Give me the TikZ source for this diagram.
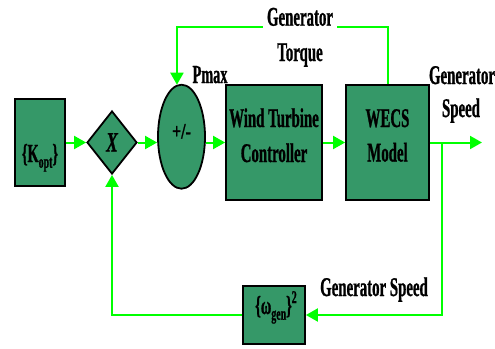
\documentclass[tikz,border=0pt]{standalone}
\usepackage{fontspec}
\newfontfamily\cf{Liberation Serif}[FakeStretch=0.55,FakeBold=0.8]
\newfontfamily\cfx{Liberation Serif}[FakeStretch=0.62,FakeBold=0.8]
\newfontfamily\cfy{Liberation Serif}[FakeStretch=0.72,FakeBold=0.8]
\usetikzlibrary{arrows.meta,shapes.geometric}
\definecolor{boxg}{RGB}{53,152,104}
\definecolor{lineg}{RGB}{0,255,0}
\newcommand\lowsub[1]{\raisebox{-0.22em}{\fontsize{18}{18}\selectfont #1}}
\newcommand\highsup[1]{\raisebox{0.42em}{\fontsize{18}{18}\selectfont #1}}
\begin{document}
\begin{tikzpicture}[x=1pt,y=-1pt,
  blk/.style={draw=black, line width=1.8pt, fill=boxg, inner sep=0pt},
  sig/.style={draw=lineg, line width=2pt, -{Triangle[length=12pt,width=13pt]}},
  txt/.style={font=\cf\bfseries\fontsize{27}{35}\selectfont, inner sep=0pt, anchor=base},
  stxt/.style={font=\cf\bfseries\fontsize{26}{30}\selectfont, inner sep=0pt, anchor=base}
]
\useasboundingbox (0,0) rectangle (495,348);

% blocks
\node[blk, minimum width=50pt, minimum height=87pt] (kopt) at (40,142.5) {};
\node[blk, diamond, minimum width=50pt, minimum height=63pt] (dia) at (112,142.5) {};
\node[blk, ellipse, minimum width=47pt, minimum height=104pt] (ell) at (181.5,136.7) {};
\node[blk, minimum width=96pt, minimum height=115pt] (wtc) at (274,142.5) {};
\node[blk, minimum width=83pt, minimum height=115pt] (wecs) at (387.5,142.5) {};
\node[blk, minimum width=62pt, minimum height=58pt] (om) at (274,315) {};

% block texts
\node[stxt] (tk) at (40,162) {\{K\lowsub{opt}\}};
\node[txt, font=\cfx\bfseries\itshape\fontsize{28}{30}\selectfont] (tx) at (112,151.5) {X};
\node[txt, font=\cfy\bfseries\fontsize{22}{26}\selectfont] (tpm) at (181.5,138.5) {+/-};
\node[txt] (tw1) at (274,127) {Wind Turbine};
\node[txt] (tw2) at (274,162) {Controller};
\node[txt] (te1) at (387.5,127) {WECS};
\node[txt] (te2) at (387.5,161.5) {Model};
\node[stxt] (to) at (276,314) {\{ω\lowsub{gen}\}\highsup{2}};

% connectors
\coordinate (out) at (482,142.5);
\coordinate (br) at (442,142.5);
\draw[sig] (kopt.east) -- (dia.west);
\draw[sig] (dia.east) -- (dia.east -| ell.west);
\draw[sig] (wtc.west -| ell.east) -- (wtc.west);
\draw[sig] (wtc.east) -- (wecs.west);
\draw[sig] (wecs.east) -- (out);
\draw[sig] (br) |- (om.east);
\draw[sig] (om.west) -| (dia.south);
\draw[sig] (wecs.north) -- ++(0,-57.3) -| (ell.95);

% labels
\node[stxt] (lpmax) at (210,83) {Pmax};
\node[txt, fill=white, inner xsep=4pt, inner ysep=3pt] (lgt1) at (300,25.7) {Generator};
\node[txt] (lgt2) at (300,61) {Torque};
\node[txt] (lgs1) at (462,84) {Generator};
\node[txt] (lgs2) at (461,117) {Speed};
\node[txt] (lgs3) at (374,296) {Generator Speed};
\end{tikzpicture}
\end{document}
